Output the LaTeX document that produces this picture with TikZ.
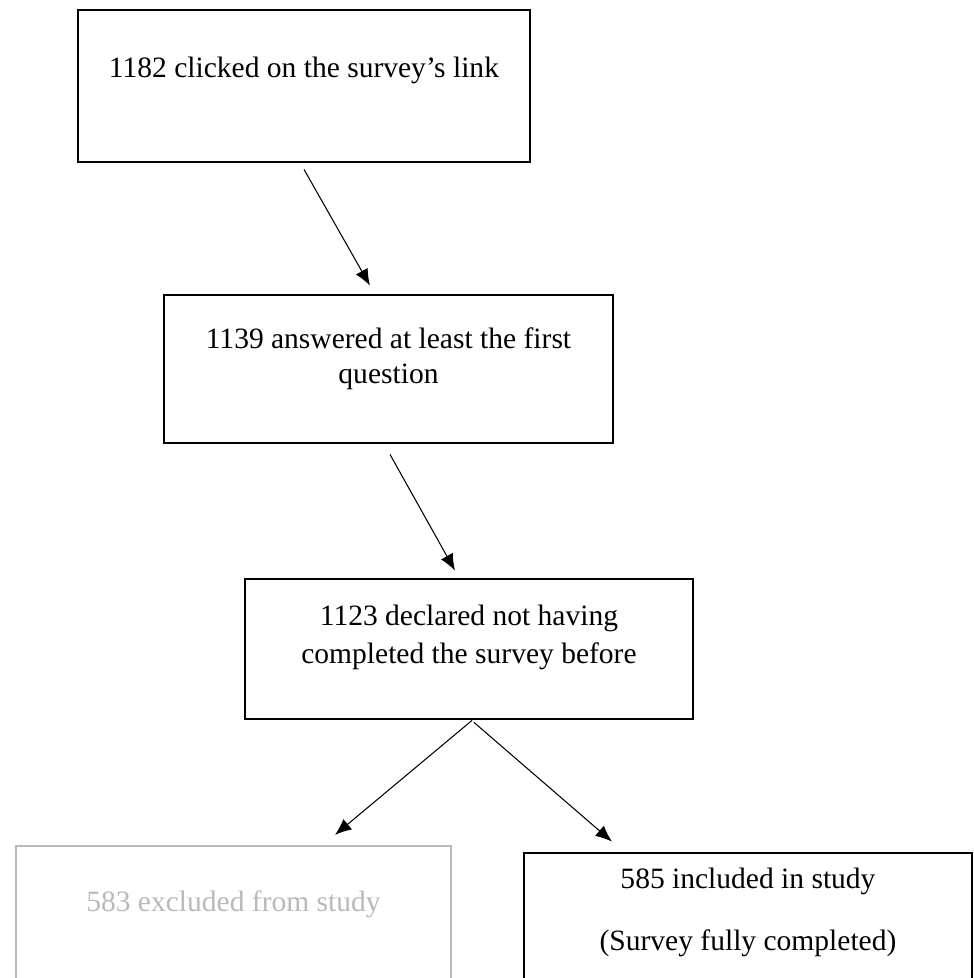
\documentclass[tikz,border=0pt]{standalone}
\usepackage{fontspec}
\setmainfont{Liberation Serif}
\usetikzlibrary{arrows.meta}
\definecolor{exclgray}{RGB}{185,185,185}

\begin{document}
\begin{tikzpicture}[line width=0.6pt,>={Latex[length=0.33cm,width=0.27cm]}, node distance=5.6cm]
    \tikzstyle{every node}=[font=\fontsize{16.8}{19.9}\selectfont];
    \tikzstyle{box}=[draw,shape=rectangle,line width=1.6pt,inner sep=0pt];
    \tikzstyle{txt}=[anchor=base,align=center,inner sep=0pt];

    \useasboundingbox (0,0) rectangle (19.48,-19.56);
    \clip (0,0) rectangle (19.48,-19.56);

    \node[box,minimum width=9.04cm,minimum height=3.04cm] (clicked) at (6.08,-1.72) {};
    \node[box,minimum width=8.98cm,minimum height=2.96cm] (answered) [below of=clicked,node distance=5.66cm,xshift=1.69cm] {};
    \node[box,minimum width=8.96cm,minimum height=2.8cm] (declared) [below of=answered,xshift=1.61cm] {};
    \node[box,draw=exclgray,line width=1.3pt,minimum width=8.7cm,minimum height=5.2cm] (excluded) [below of=declared,node distance=6.54cm,xshift=-4.71cm] {};
    \node[box,minimum width=8.96cm,minimum height=5.2cm] (included) [below of=declared,node distance=6.68cm,xshift=5.58cm] {};

    % text sits on the last baseline
    \node[txt] (clickedtxt) at ([yshift=-1.38cm]clicked.north) {1182 clicked on the survey's link};
    \node[txt] (answeredtxt) at ([yshift=-1.8cm]answered.north) {1139 answered at least the first\\question};
    \node[txt] (declaredtxt) at ([yshift=-1.72cm]declared.north) {1123 declared not having\\[1.7pt]completed the survey before};
    \node[txt,text=exclgray] (excludedtxt) at ([yshift=-1.34cm]excluded.north) {583 excluded from study};
    \node[txt] (includedtxt) at ([yshift=-1.98cm]included.north) {585 included in study\\[15.4pt](Survey fully completed)};

    \draw[->] ([yshift=-0.12cm]clicked.south) -- ([xshift=-0.37cm,yshift=0.16cm]answered.north);
    \draw[->] ([xshift=0.03cm,yshift=-0.2cm]answered.south) -- ([xshift=-0.28cm,yshift=0.14cm]declared.north);
    \draw[->] ([xshift=0.06cm]declared.south) -- ([xshift=2.03cm,yshift=0.2cm]excluded.north);
    \draw[->] ([xshift=0.1cm,yshift=-0.04cm]declared.south) -- ([xshift=-2.72cm,yshift=0.2cm]included.north);

\end{tikzpicture}
\end{document}
